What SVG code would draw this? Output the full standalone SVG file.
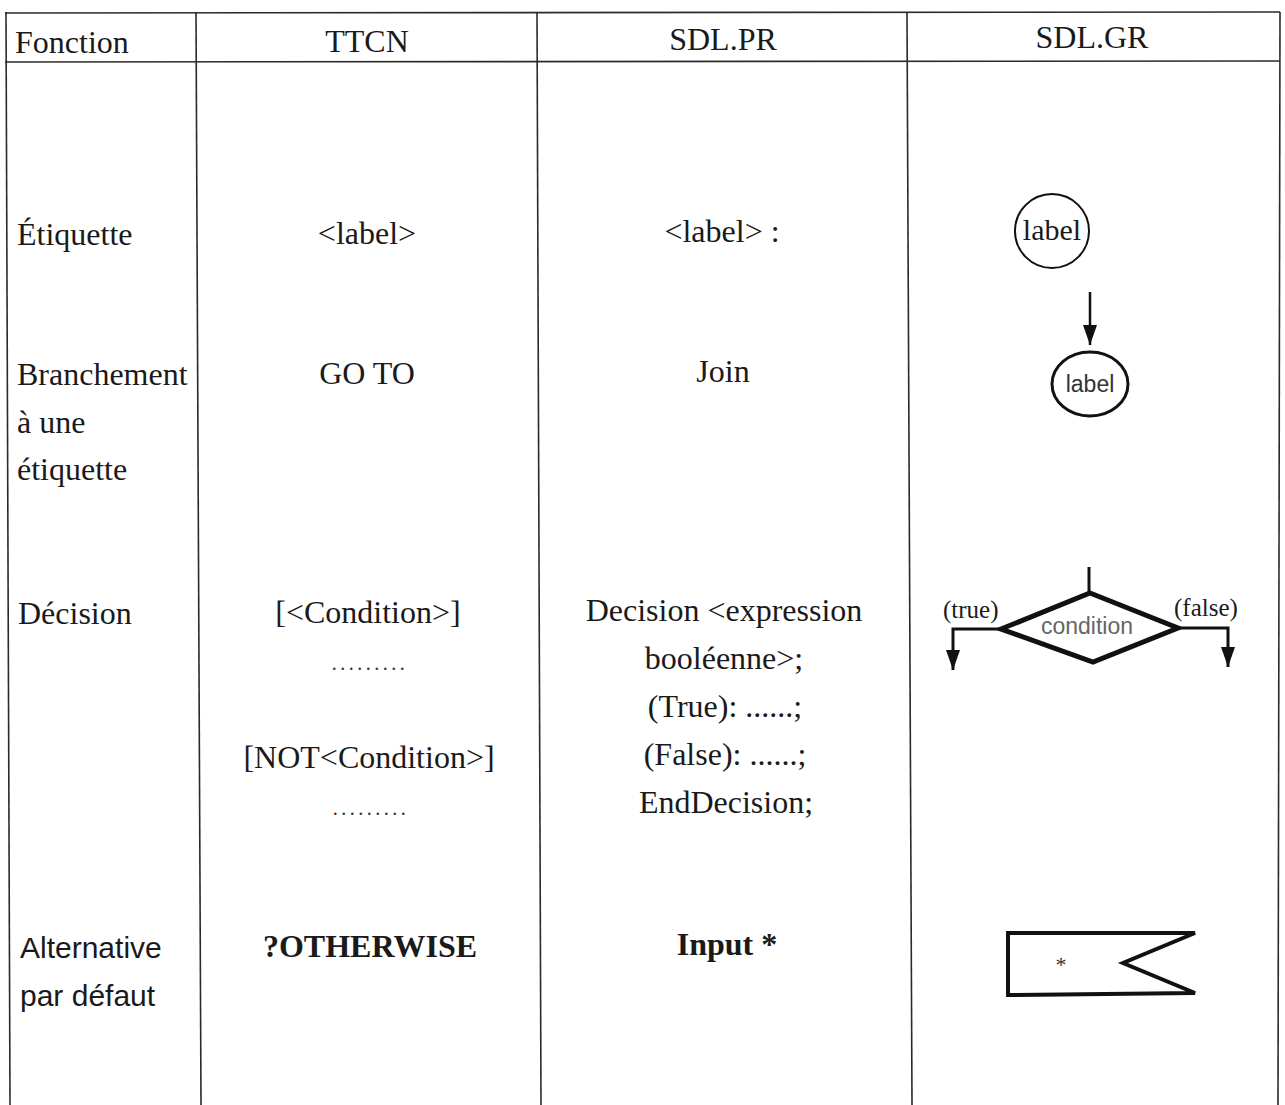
<svg xmlns="http://www.w3.org/2000/svg" width="1285" height="1105" viewBox="0 0 1285 1105">
  <style>
    .grid { stroke: #2a2a2a; stroke-width: 1.6; fill: none; }
    .t { font-family: "Liberation Serif", "Times New Roman", serif; font-size: 32px; fill: #1a1a1a; }
    .c { text-anchor: middle; }
    .s { font-family: "Liberation Sans", Arial, sans-serif; font-size: 30px; fill: #1a1a1a; }
    .b { font-weight: bold; }
    .dots { font-family: "Liberation Serif", serif; font-size: 20px; fill: #333; text-anchor: middle; letter-spacing: 3.5px; }
    .sym { stroke: #111; fill: none; }
  </style>
  <defs>
    <marker id="arr" viewBox="0 0 20 14" refX="20" refY="7" markerWidth="20" markerHeight="14" markerUnits="userSpaceOnUse" orient="auto">
      <path d="M0,0 L20,7 L0,14 Z" fill="#111"/>
    </marker>
  </defs>
  <rect width="1285" height="1105" fill="#ffffff"/>

  <!-- table grid -->
  <g id="table">
    <line class="grid" x1="5" y1="13" x2="1280" y2="12"/>
    <line class="grid" x1="5" y1="62" x2="1280" y2="61"/>
    <line class="grid" x1="6" y1="12" x2="10" y2="1105"/>
    <line class="grid" x1="196" y1="12" x2="201" y2="1105"/>
    <line class="grid" x1="537" y1="12" x2="541" y2="1105"/>
    <line class="grid" x1="907" y1="12" x2="912" y2="1105"/>
    <line class="grid" x1="1280" y1="12" x2="1278" y2="1105"/>
  </g>

  <!-- header row -->
  <g id="header">
    <text class="t" x="15" y="53">Fonction</text>
    <text class="t c" x="367" y="52">TTCN</text>
    <text class="t c" x="723" y="50">SDL.PR</text>
    <text class="t c" x="1092" y="48">SDL.GR</text>
  </g>

  <!-- row: label -->
  <g id="row-etiquette">
    <text class="t" x="17" y="245">Étiquette</text>
    <text class="t c" x="367" y="244">&lt;label&gt;</text>
    <text class="t c" x="722" y="242">&lt;label&gt; :</text>
  </g>
  <g id="gr-label">
    <circle class="sym" cx="1052" cy="231" r="37" stroke-width="2"/>
    <text class="t c" x="1052" y="240" style="font-size:30px">label</text>
  </g>

  <!-- row: branch to label -->
  <g id="row-branchement">
    <text class="t" x="17" y="385">Branchement</text>
    <text class="t" x="17" y="433">à une</text>
    <text class="t" x="17" y="480">étiquette</text>
    <text class="t c" x="367" y="384">GO TO</text>
    <text class="t c" x="723" y="382">Join</text>
  </g>
  <g id="gr-join">
    <ellipse class="sym" cx="1090" cy="384" rx="38" ry="32" stroke-width="3"/>
    <text class="s c" x="1090" y="392" style="font-size:23px; fill:#333">label</text>
  </g>

  <!-- row: decision -->
  <g id="row-decision">
    <text class="t" x="18" y="624">Décision</text>
    <text class="t c" x="368" y="623">[&lt;Condition&gt;]</text>
    <text class="dots" x="370" y="670">.........</text>
    <text class="t c" x="369" y="768">[NOT&lt;Condition&gt;]</text>
    <text class="dots" x="371" y="815">.........</text>
    <text class="t c" x="724" y="621">Decision &lt;expression</text>
    <text class="t c" x="724" y="669">booléenne&gt;;</text>
    <text class="t c" x="725" y="717">(True): ......;</text>
    <text class="t c" x="725" y="765">(False): ......;</text>
    <text class="t c" x="726" y="813">EndDecision;</text>
  </g>
  <g id="gr-decision">
    <path class="sym" d="M1090,593 L1178,628 L1093,662 L1001,629 Z" stroke-width="5" stroke-linejoin="miter"/>
    <text class="s c" x="1087" y="634" style="font-size:23px; fill:#666">condition</text>
    <text class="t" x="943" y="618" style="font-size:25px">(true)</text>
    <text class="t" x="1174" y="616" style="font-size:25px">(false)</text>
  </g>

  <!-- row: default alternative -->
  <g id="row-alternative">
    <text class="s" x="20" y="958">Alternative</text>
    <text class="s" x="20" y="1006">par défaut</text>
    <text class="t c b" x="370" y="957">?OTHERWISE</text>
    <text class="t c b" x="727" y="955">Input *</text>
  </g>
  <g id="gr-input">
    <path class="sym" d="M1008,933 L1195,933 L1123,963 L1195,993 L1008,995 Z" stroke-width="4" stroke-linejoin="miter"/>
    <text class="t c" x="1061" y="972" style="font-size:22px; fill:#333">*</text>
  </g>

  <!-- connectors -->
  <g id="connectors">
    <line class="sym" x1="1090" y1="292" x2="1090" y2="345" stroke-width="2.5" marker-end="url(#arr)"/>
    <line class="sym" x1="1089" y1="567" x2="1089" y2="594" stroke-width="3"/>
    <polyline class="sym" points="1001,629 953,629 953,670" stroke-width="3" marker-end="url(#arr)"/>
    <polyline class="sym" points="1178,628 1228,628 1228,667" stroke-width="3" marker-end="url(#arr)"/>
  </g>
</svg>
